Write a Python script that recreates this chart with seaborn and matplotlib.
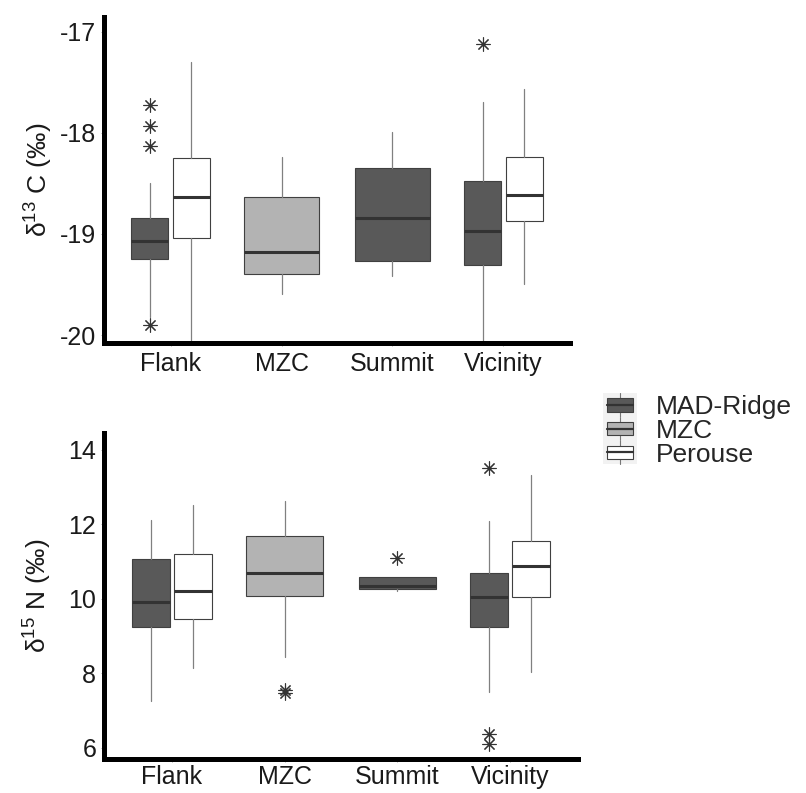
import numpy as np
import pandas as pd
import matplotlib.pyplot as plt
import seaborn as sns
from matplotlib.legend_handler import HandlerBase
from matplotlib.patches import Rectangle, Patch
from matplotlib.lines import Line2D

# data (box stats per site within each area)
categories = ["Flank", "MZC", "Summit", "Vicinity"]
sites = ["MAD-Ridge", "MZC", "Perouse"]
site_colors = {"MAD-Ridge": "#595959", "MZC": "#b3b3b3", "Perouse": "#ffffff"}

box_cat = ["Flank", "Flank", "MZC", "Summit", "Vicinity", "Vicinity"]
box_site = ["MAD-Ridge", "Perouse", "MZC", "MAD-Ridge", "MAD-Ridge", "Perouse"]

c13_q1 = [-19.25, -19.04, -19.40, -19.27, -19.31, -18.87]
c13_med = [-19.07, -18.64, -19.18, -18.84, -18.97, -18.62]
c13_q3 = [-18.84, -18.25, -18.64, -18.35, -18.48, -18.24]
c13_lo = [-19.82, -20.30, -19.59, -19.42, -20.30, -19.50]
c13_hi = [-18.50, -17.30, -18.24, -17.99, -17.70, -17.57]
c13_out = [[-17.73, -17.93, -18.13, -19.90], [], [], [], [-17.12], []]

n15_q1 = [9.23, 9.47, 10.08, 10.27, 9.25, 10.04]
n15_med = [9.91, 10.20, 10.68, 10.35, 10.06, 10.88]
n15_q3 = [11.06, 11.20, 11.68, 10.58, 10.68, 11.56]
n15_lo = [7.25, 8.15, 8.44, 10.22, 7.51, 8.03]
n15_hi = [12.11, 12.53, 12.62, 10.58, 12.09, 13.31]
n15_out = [[], [], [7.56, 7.47], [11.09], [13.51, 6.38, 6.10], []]

sns.set_theme(style="white")
plt.rcParams['font.family'] = ['Liberation Sans', 'DejaVu Sans']
plt.rcParams['mathtext.fontset'] = 'custom'
plt.rcParams['mathtext.rm'] = 'Liberation Sans'
plt.rcParams['axes.unicode_minus'] = False


class BoxKey(HandlerBase):
    def create_artists(self, legend, orig_handle, xdescent, ydescent,
                       width, height, fontsize, trans):
        x0, y0 = -xdescent, -ydescent
        bg = Rectangle((x0, y0 - 0.05 * height), width, height * 1.1,
                       facecolor="#f2f2f2", edgecolor="none", transform=trans)
        wh = Line2D([x0 + width / 2] * 2, [y0 - 0.05 * height, y0 + 1.05 * height],
                    color="#777777", lw=0.8, transform=trans)
        box = Rectangle((x0 + 0.12 * width, y0 + 0.2 * height), 0.76 * width,
                        0.6 * height, facecolor=orig_handle.get_facecolor(),
                        edgecolor="#404040", lw=0.8, transform=trans)
        med = Line2D([x0 + 0.12 * width, x0 + 0.88 * width], [y0 + height / 2] * 2,
                     color="#333333", lw=1.6, transform=trans)
        return [bg, wh, box, med]


def draw_panel(ax, q1, med, q3, lo, hi, out, ylim, yticks, ylabel, xpad):
    counts = pd.Series(box_cat).value_counts()
    seen = {}
    stats, pos, wid = [], [], []
    for i, (c, s) in enumerate(zip(box_cat, box_site)):
        k = categories.index(c) + 1
        n = counts[c]
        j = seen.get(c, 0)
        seen[c] = j + 1
        slot = 0.75 / n
        pos.append(k - 0.375 + slot * (j + 0.5))
        wid.append(slot * 0.9)
        stats.append(dict(q1=q1[i], med=med[i], q3=q3[i], whislo=lo[i],
                          whishi=hi[i], fliers=out[i]))
    bp = ax.bxp(stats, positions=pos, widths=wid, patch_artist=True,
                showcaps=False, showfliers=True,
                boxprops=dict(edgecolor="#404040", linewidth=0.8),
                whiskerprops=dict(color="#808080", linewidth=0.9),
                medianprops=dict(color="#333333", linewidth=2.2),
                flierprops=dict(marker=(8, 2, 0), markersize=10,
                                markeredgecolor="#333333", markeredgewidth=0.8,
                                linestyle="none"))
    for patch, s in zip(bp['boxes'], box_site):
        patch.set_facecolor(site_colors[s])
    ax.set_xlim(0.4, 4.6)
    ax.set_ylim(*ylim)
    ax.set_xticks(range(1, 5))
    ax.set_xticklabels(categories)
    ax.set_yticks(yticks)
    ax.set_yticklabels([str(t) for t in yticks])
    for sp in ['top', 'right']:
        ax.spines[sp].set_visible(False)
    for sp in ['left', 'bottom']:
        ax.spines[sp].set_linewidth(3.6)
        ax.spines[sp].set_color("black")
        ax.spines[sp].set_capstyle('projecting')
    ax.tick_params(axis='both', bottom=True, left=True, length=2.5, width=0.6,
                   color="#999999", labelsize=18, labelcolor="#1a1a1a")
    ax.tick_params(axis='x', pad=xpad)
    ax.tick_params(axis='y', pad=3)
    ax.set_ylabel(ylabel, fontsize=19, color="#1a1a1a", va='center')
    ax.yaxis.set_label_coords(-0.142, 0.5)


fig = plt.figure(figsize=(8.06, 7.93), dpi=100)
ax1 = fig.add_axes([104 / 806, 1 - 342.5 / 793, 466 / 806, 326 / 793])
ax2 = fig.add_axes([104 / 806, 1 - 759 / 793, 474 / 806, 326 / 793])

draw_panel(ax1, c13_q1, c13_med, c13_q3, c13_lo, c13_hi, c13_out,
           (-20.074, -16.85), [-20, -19, -18, -17], "δ$^{13}$ C (‰)", 4)
draw_panel(ax2, n15_q1, n15_med, n15_q3, n15_lo, n15_hi, n15_out,
           (5.7, 14.45), [6, 8, 10, 12, 14], "δ$^{15}$ N (‰)", 1.5)

handles = [Patch(facecolor=site_colors[s]) for s in sites]
fig.legend(handles=handles, labels=sites, handler_map={Patch: BoxKey()},
           loc='upper left', bbox_to_anchor=(603 / 806, 1 - 394 / 793),
           frameon=False, fontsize=19, handlelength=1.3, handleheight=0.9,
           handletextpad=0.7, labelspacing=-0.05, borderpad=0, borderaxespad=0)

fig.savefig("out.png", dpi=100)
